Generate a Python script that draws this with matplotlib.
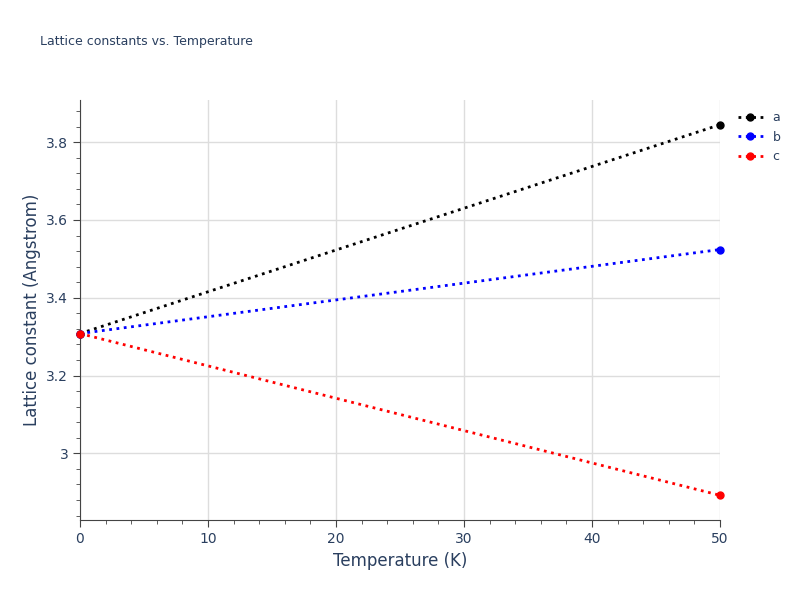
import matplotlib
matplotlib.use("Agg")
import matplotlib.pyplot as plt
from matplotlib.ticker import MultipleLocator

temps = [0, 50]
a_vals = [3.308, 3.845]
b_vals = [3.308, 3.524]
c_vals = [3.308, 2.892]
names = ["a", "b", "c"]
colors = ["black", "blue", "red"]

fig = plt.figure(figsize=(8, 6), dpi=100)
ax = fig.add_axes([0.1, 0.133, 0.8, 0.7])
for vals, n, c in zip([a_vals, b_vals, c_vals], names, colors):
    ax.plot(temps, vals, ':', color=c, lw=2, marker='o', ms=5, label=n, clip_on=False, zorder=3)

ax.set_xlim(0, 50)
ax.set_ylim(2.828, 3.908)
ax.set_xticks([0, 10, 20, 30, 40, 50])
ax.set_yticks([3.0, 3.2, 3.4, 3.6, 3.8])
ax.set_yticklabels(["3", "3.2", "3.4", "3.6", "3.8"])
ax.xaxis.set_minor_locator(MultipleLocator(2))
ax.yaxis.set_minor_locator(MultipleLocator(0.04))
ax.grid(True, color='#dddddd', lw=1)
ax.set_axisbelow(True)
for s in ['top', 'right']:
    ax.spines[s].set_visible(False)
for s in ['left', 'bottom']:
    ax.spines[s].set_color('#444444')
tc = '#2a3f5f'
ax.tick_params(which='major', length=5, color='#444444', labelcolor=tc, labelsize=10)
ax.tick_params(which='minor', length=3, color='#444444')
ax.set_xlabel("Temperature (K)", color=tc, fontsize=12)
ax.set_ylabel("Lattice constant (Angstrom)", color=tc, fontsize=12)
fig.text(0.05, 0.925, "Lattice constants vs. Temperature", color=tc, fontsize=9)
leg = ax.legend(loc='upper left', bbox_to_anchor=(1.01, 1.0), frameon=False, fontsize=9,
                handlelength=2, labelcolor=tc)
fig.savefig("out.png")
